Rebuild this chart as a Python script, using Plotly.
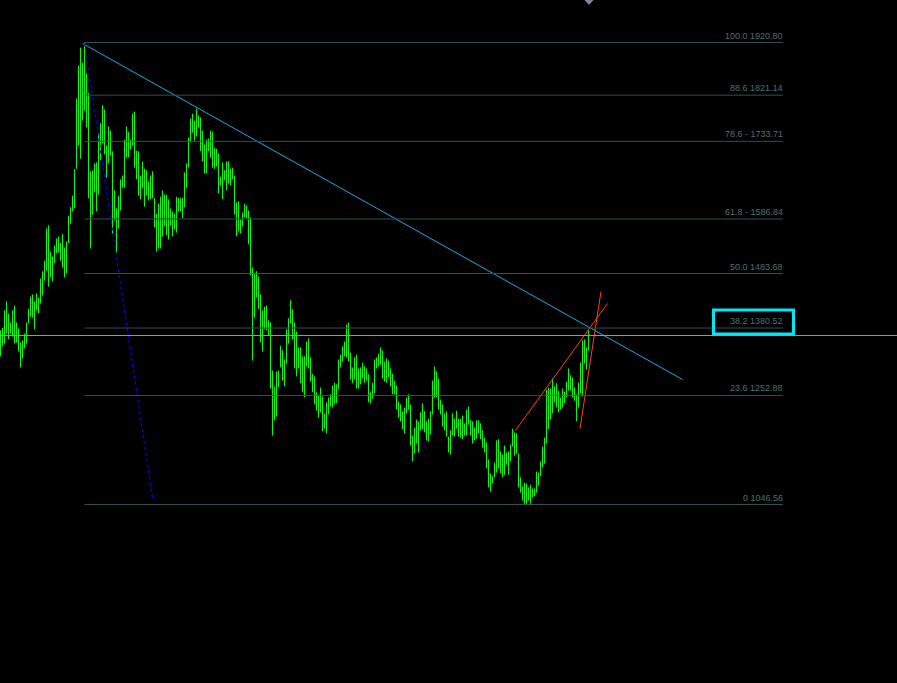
import plotly.graph_objects as go

# ---------------- data ----------------
bar_high = [
    1376, 1381, 1414, 1431, 1408, 1391, 1414, 1423, 1391, 1380,
    1353, 1357, 1370, 1391, 1417, 1440, 1444, 1431, 1446, 1438,
    1474, 1488, 1508, 1569, 1575, 1525, 1516, 1537, 1550, 1554,
    1542, 1558, 1533, 1544, 1593, 1609, 1631, 1681, 1815, 1877,
    1911, 1883, 1920.8, 1862, 1826, 1677, 1679, 1692, 1694, 1749,
    1768, 1802, 1794, 1726, 1762, 1754, 1715, 1641, 1607, 1631,
    1662, 1669, 1737, 1762, 1752, 1737, 1786, 1790, 1716, 1715,
    1669, 1696, 1682, 1679, 1658, 1669, 1677, 1626, 1597, 1616,
    1629, 1641, 1633, 1633, 1624, 1607, 1601, 1597, 1629, 1627,
    1626, 1627, 1675, 1692, 1741, 1777, 1786, 1773, 1796, 1783,
    1779, 1754, 1728, 1737, 1739, 1754, 1752, 1722, 1720, 1711,
    1667, 1694, 1679, 1696, 1696, 1682, 1684, 1669, 1618, 1620,
    1586, 1599, 1616, 1612, 1603, 1590, 1495, 1484, 1488, 1478,
    1444, 1414, 1421, 1423, 1395, 1391, 1300, 1270, 1298, 1300,
    1347, 1338, 1321, 1378, 1399, 1433, 1416, 1391, 1374, 1344,
    1344, 1327, 1327, 1355, 1361, 1325, 1294, 1289, 1259, 1253,
    1268, 1251, 1219, 1240, 1249, 1255, 1272, 1277, 1274, 1321,
    1330, 1346, 1355, 1387, 1391, 1334, 1306, 1325, 1330, 1304,
    1306, 1315, 1308, 1304, 1293, 1259, 1277, 1321, 1325, 1332,
    1344, 1338, 1317, 1323, 1319, 1304, 1294, 1281, 1272, 1241,
    1236, 1223, 1230, 1249, 1255, 1236, 1177, 1192, 1207, 1204,
    1221, 1238, 1223, 1204, 1209, 1223, 1281, 1308, 1298, 1285,
    1245, 1236, 1219, 1223, 1175, 1187, 1219, 1209, 1224, 1209,
    1209, 1215, 1200, 1226, 1232, 1207, 1204, 1192, 1206, 1206,
    1200, 1187, 1173, 1164, 1132, 1105, 1100, 1126, 1168, 1170,
    1147, 1141, 1158, 1145, 1147, 1160, 1190, 1183, 1181, 1143,
    1098, 1081, 1088, 1086, 1079, 1084, 1077, 1077, 1109, 1107,
    1128, 1156, 1173, 1264, 1268, 1266, 1285, 1270, 1276, 1262,
    1249, 1266, 1260, 1279, 1304, 1291, 1287, 1268, 1255, 1277,
    1315, 1357, 1359, 1344, 1376,
]
bar_low = [
    1327, 1346, 1351, 1370, 1359, 1370, 1364, 1351, 1353, 1336,
    1306, 1323, 1342, 1351, 1389, 1402, 1400, 1378, 1414, 1408,
    1427, 1442, 1470, 1489, 1459, 1476, 1469, 1503, 1522, 1523,
    1508, 1495, 1476, 1484, 1541, 1578, 1601, 1607, 1682, 1726,
    1701, 1773, 1792, 1760, 1626, 1531, 1595, 1637, 1601, 1633,
    1698, 1730, 1709, 1665, 1692, 1707, 1559, 1584, 1523, 1569,
    1603, 1646, 1646, 1703, 1703, 1718, 1726, 1684, 1662, 1631,
    1624, 1645, 1610, 1631, 1622, 1624, 1626, 1571, 1525, 1531,
    1531, 1554, 1573, 1556, 1548, 1575, 1554, 1567, 1561, 1601,
    1601, 1588, 1609, 1645, 1684, 1733, 1750, 1735, 1743, 1760,
    1715, 1696, 1673, 1673, 1715, 1703, 1684, 1682, 1686, 1635,
    1650, 1624, 1660, 1641, 1654, 1650, 1662, 1595, 1554, 1563,
    1559, 1573, 1590, 1588, 1539, 1480, 1319, 1400, 1438, 1417,
    1353, 1336, 1378, 1376, 1366, 1266, 1177, 1206, 1213, 1268,
    1306, 1281, 1270, 1313, 1351, 1389, 1359, 1304, 1289, 1304,
    1276, 1259, 1249, 1308, 1304, 1279, 1259, 1236, 1224, 1211,
    1221, 1185, 1190, 1181, 1217, 1232, 1230, 1236, 1238, 1264,
    1306, 1317, 1327, 1325, 1317, 1283, 1276, 1283, 1266, 1266,
    1274, 1285, 1277, 1281, 1240, 1238, 1247, 1257, 1304, 1308,
    1311, 1285, 1279, 1277, 1287, 1270, 1255, 1255, 1226, 1211,
    1204, 1189, 1181, 1219, 1226, 1158, 1128, 1143, 1162, 1145,
    1187, 1189, 1183, 1168, 1166, 1179, 1217, 1249, 1249, 1226,
    1217, 1194, 1187, 1175, 1145, 1141, 1177, 1175, 1190, 1175,
    1173, 1170, 1177, 1177, 1198, 1177, 1162, 1168, 1171, 1181,
    1170, 1154, 1145, 1115, 1079, 1071, 1086, 1098, 1107, 1115,
    1105, 1098, 1103, 1122, 1103, 1128, 1156, 1139, 1143, 1079,
    1069, 1054, 1048, 1046.56, 1054, 1048, 1060, 1062, 1069, 1082,
    1100, 1117, 1124, 1162, 1189, 1207, 1219, 1240, 1230, 1221,
    1226, 1230, 1238, 1249, 1262, 1262, 1249, 1243, 1204, 1230,
    1257, 1251, 1313, 1302, 1338,
]
assert len(bar_high) == len(bar_low) == 295

fib_ratios = [100.0, 88.6, 78.6, 61.8, 50.0, 38.2, 23.6, 0.0]
fib_prices = [1920.80, 1821.14, 1733.71, 1586.84, 1483.68, 1380.52, 1252.88, 1046.56]
fib_labels = ["100.0 1920.80", "88.6 1821.14", "78.6 - 1733.71", "61.8 - 1586.84",
              "50.0 1483.68", "38.2 1380.52", "23.6 1252.88", "0 1046.56"]
fib_start_bar = 42
fib_end_bar = 391.25

trend_x = [41, 341]
trend_y = [1919.0, 1283.0]
dotted_x = [42, 76]
dotted_y = [1919.0, 1060.0]
red1_x = [257.5, 303.5]
red1_y = [1186.6, 1426.9]
red2_x = [289.75, 300.25]
red2_y = [1190.4, 1449.6]
current_price = 1366.4
highlight_box = dict(x0=356.5, x1=396.5, y0=1369.2, y1=1414.6)
last_bar = 294

# ---------------- figure ----------------
scale = 874.24 / 462.0
y_top = 1920.80 + 42.5 * scale
y_bot = y_top - 683 * scale

fig = go.Figure()

xs, ys = [], []
for i, (h, l) in enumerate(zip(bar_high, bar_low)):
    xs += [i, i, None]
    ys += [l, h, None]
fig.add_trace(go.Scatter(x=xs, y=ys, mode="lines",
                         line=dict(color="#00ff00", width=1), hoverinfo="skip"))

shapes = []
annotations = []
for r, p, lab in zip(fib_ratios, fib_prices, fib_labels):
    shapes.append(dict(type="line", xref="x", yref="y", x0=fib_start_bar, x1=fib_end_bar,
                       y0=p, y1=p, line=dict(color="#2f4f4f", width=1)))
    annotations.append(dict(x=fib_end_bar, y=p, xref="x", yref="y", text=lab,
                            showarrow=False, xanchor="right", yanchor="bottom",
                            xshift=2, yshift=0,
                            font=dict(family="Liberation Sans, Arial", size=9, color="#4a7070")))

# current price line
shapes.append(dict(type="line", xref="paper", yref="y", x0=0, x1=1,
                   y0=current_price, y1=current_price, line=dict(color="#9a9a9a", width=1)))

fig.add_trace(go.Scatter(x=trend_x, y=trend_y, mode="lines",
                         line=dict(color="#18a8ea", width=1), hoverinfo="skip"))
fig.add_trace(go.Scatter(x=dotted_x, y=dotted_y, mode="lines",
                         line=dict(color="#0000ff", width=1.2, dash="dot"), hoverinfo="skip"))
fig.add_trace(go.Scatter(x=red1_x, y=red1_y, mode="lines",
                         line=dict(color="#ff4500", width=1), hoverinfo="skip"))
fig.add_trace(go.Scatter(x=red2_x, y=red2_y, mode="lines",
                         line=dict(color="#ff4500", width=1), hoverinfo="skip"))

shapes.append(dict(type="rect", xref="x", yref="y", **highlight_box,
                   line=dict(color="#00e8f8", width=3), fillcolor="rgba(0,0,0,0)"))

# chart shift marker
tri_h = 5 * scale
shapes.append(dict(type="path", xref="x", yref="y",
                   path=f"M {last_bar-2},{y_top} L {last_bar+2.5},{y_top} L {last_bar+0.25},{y_top-tri_h} Z",
                   fillcolor="#7a8898", line=dict(width=0)))

fig.update_layout(
    width=897, height=683,
    margin=dict(l=0, r=0, t=0, b=0),
    paper_bgcolor="#000000", plot_bgcolor="#000000",
    showlegend=False,
    xaxis=dict(range=[-0.25, 448.25], visible=False, showgrid=False, zeroline=False),
    yaxis=dict(range=[y_bot, y_top], visible=False, showgrid=False, zeroline=False),
    shapes=shapes, annotations=annotations,
)

fig.write_html(
    "out.html",
    config={"displayModeBar": False},
    post_script="document.body.style.margin='0';document.body.style.background='#000';"
                "document.body.style.overflow='hidden';",
)
